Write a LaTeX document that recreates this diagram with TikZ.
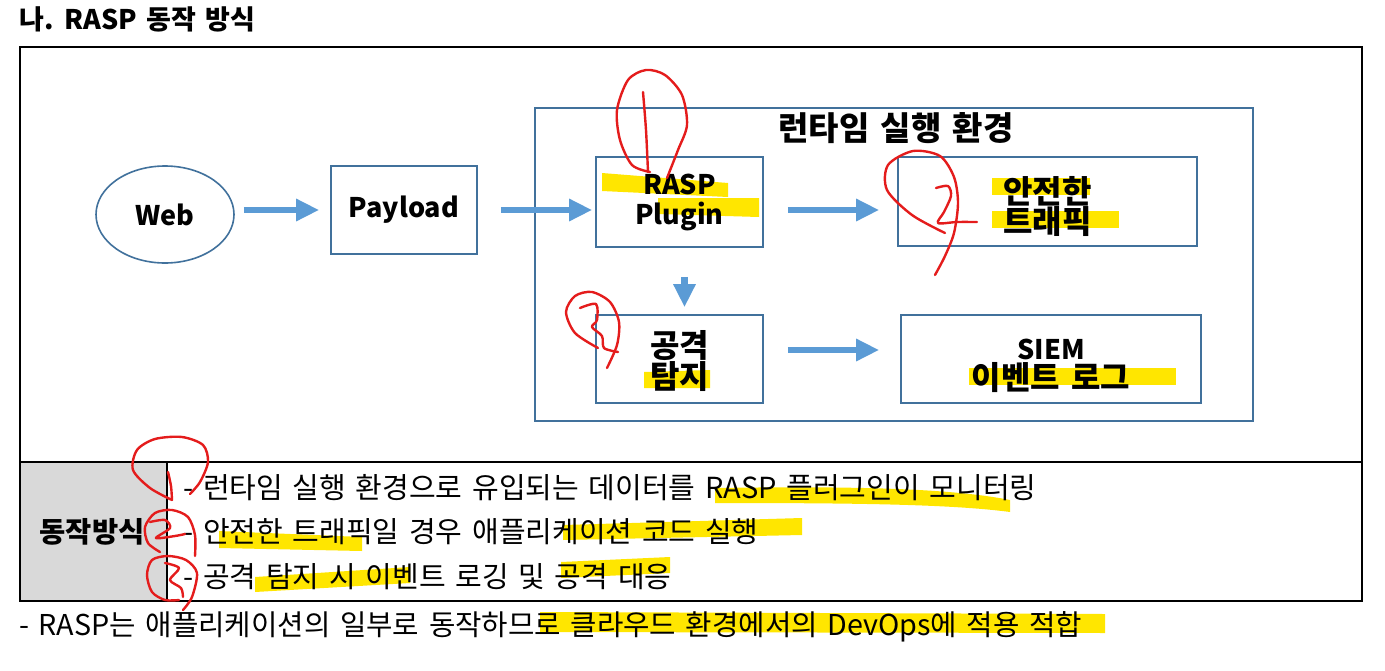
\documentclass[tikz,border=0pt]{standalone}
\usepackage{fontspec}
\setmainfont[WordSpace=1.5]{Noto Sans CJK KR}
\usetikzlibrary{arrows.meta,positioning,calc,shapes.geometric}
\definecolor{bc}{RGB}{65,113,156}
\definecolor{ac}{RGB}{91,155,213}
\definecolor{hl}{RGB}{255,230,0}
\definecolor{redpen}{RGB}{228,28,28}
\definecolor{gc}{RGB}{217,217,217}
\newcommand{\hg}{\fontsize{32}{30}\selectfont}
\tikzset{blk/.style={draw=bc,line width=1.6pt,align=center,inner sep=0pt,font=\fontsize{27}{30}\selectfont\bfseries},
 arr/.style={ac,line width=6.5pt,-{Triangle[length=23pt,width=21pt]}},
 scribble/.style={redpen,line width=2.4pt,line cap=round,line join=round},
 txt/.style={anchor=west,inner sep=0pt,font=\fontsize{29}{32}\selectfont}}
\begin{document}
\begin{tikzpicture}[x=1pt,y=-1pt]
\useasboundingbox (0,0) rectangle (1385,670);
% yellow marker
\fill[hl] (602,173)--(728,183)--(728,197)--(602,191)--cycle;
\fill[hl] (658,198)--(759,198)--(759,217)--(658,214)--cycle;
\fill[hl] (992,178)--(1090,178)--(1090,195)--(992,195)--cycle;
\fill[hl] (992,211)--(1119,211)--(1119,228)--(992,228)--cycle;
\fill[hl] (644,372)--(710,370)--(710,388)--(644,388)--cycle;
\fill[hl] (969,368)--(1176,368)--(1176,385)--(969,385)--cycle;
\fill[hl] (715,488)..controls(850,486)and(950,488)..(1010,500)--(1010,512)..controls(950,504)and(850,503)..(715,503)--cycle;
\fill[hl] (219,531)--(362,537)--(362,551)--(219,548)--cycle;
\fill[hl] (563,525)--(802,518)--(802,535)--(563,540)--cycle;
\fill[hl] (255,577)--(410,567)--(410,583)--(255,592)--cycle;
\fill[hl] (561,562)--(670,557)--(670,573)--(561,578)--cycle;
\fill[hl] (540,612)--(1105,614)--(1105,633)--(540,632)--cycle;
% frame and table
\fill[gc] (20,462) rectangle (167,601);
\draw[line width=2pt] (20,47) rectangle (1362,601);
\draw[line width=1.6pt] (20,462) -- (1362,462) (167,462) -- (167,601);
\node[anchor=west,inner sep=0pt,font=\fontsize{27}{30}\selectfont\bfseries] (title) at (19,19) {나. RASP 동작 방식};
\node[font=\fontsize{28.5}{30}\selectfont\bfseries] (mode) at (92,532) {동작방식};
\node[txt] (ln1) at (183,488) {- 런타임 실행 환경으로 유입되는 데이터를 RASP 플러그인이 모니터링};
\node[txt] (ln2) at (183,532) {- 안전한 트래픽일 경우 애플리케이션 코드 실행};
\node[txt] (ln3) at (183,577) {- 공격 탐지 시 이벤트 로깅 및 공격 대응};
\node[txt,font=\fontsize{28.7}{32}\selectfont] (note) at (19,627) {- RASP는 애플리케이션의 일부로 동작하므로 클라우드 환경에서의 DevOps에 적용 적합};
% diagram
\node[draw=bc,line width=1.6pt,minimum width=718pt,minimum height=313pt] (rt) at (894,264.5) {};
\node[font=\fontsize{33}{36}\selectfont\bfseries] (rtlabel) at (896,128) {런타임 실행 환경};
\node[blk,ellipse,minimum width=138pt,minimum height=97pt] (web) at (165,214.5) {Web};
\node[blk,minimum width=146pt,minimum height=88pt] (payload) at (404,210) {Payload};
\node[blk,minimum width=167pt,minimum height=90pt] (rasp) at (679.5,202) {RASP\\Plugin};
\node[blk,minimum width=299pt,minimum height=89pt] (safe) at (1047.5,201.5) {\hg\rule{0pt}{37pt}안전한\\\hg 트래픽};
\node[blk,minimum width=167pt,minimum height=88pt] (detect) at (679.5,359) {\hg\rule{0pt}{31pt}공격\\\hg 탐지};
\node[blk,minimum width=300pt,minimum height=88pt] (siem) at (1051,359) {\rule{0pt}{34pt}SIEM\\\hg 이벤트 로그};
\draw[arr,shorten <=9pt,shorten >=11pt] (web.east |- payload.west) -- (payload.west);
\draw[arr,shorten <=23pt,shorten >=3pt] (payload.east) -- (payload.east -| rasp.west);
\draw[arr,shorten <=24pt,shorten >=18pt] ([yshift=-8pt]rasp.east) -- ([yshift=-8pt]rasp.east -| safe.west);
\draw[arr,shorten <=29pt,shorten >=7pt] ([xshift=5pt]rasp.south) -- ([xshift=5pt]detect.north);
\draw[arr,shorten <=24pt,shorten >=21pt] ([yshift=9pt]detect.east) -- ([yshift=9pt]detect.east -| siem.west);
% red pen
\draw[scribble] plot[smooth] coordinates {(667,178) (678,150) (687,125) (682,95) (665,75) (646,70) (628,80) (617,110) (620,140) (632,165) (650,172)};
\draw[scribble] plot[smooth] coordinates {(643,92) (646,130) (648,172)};
\draw[scribble] plot[smooth] coordinates {(935,275) (945,256) (954,233) (958,203) (954,177) (940,156) (913,151) (888,165) (887,190) (912,215) (945,233)};
\draw[scribble] plot[smooth] coordinates {(936,188) (948,186) (951,196) (944,212) (938,223) (957,222) (977,222)};
\draw[scribble] plot[smooth] coordinates {(598,348) (575,333) (566,312) (575,296) (592,292) (610,302) (619,322) (617,345) (607,368)};
\draw[scribble] plot[smooth] coordinates {(580,308) (596,304) (597,320) (592,327) (602,336) (604,348) (618,352)};
\draw[scribble] plot[smooth] coordinates {(172,500) (150,488) (133,470) (137,450) (155,439) (182,437) (203,445) (208,462) (200,482) (190,494)};
\draw[scribble] plot[smooth] coordinates {(168,472) (171,486) (172,500)};
\draw[scribble] plot[smooth] coordinates {(195,556) (195,535) (188,517) (172,510) (155,513) (145,527) (148,543) (160,552)};
\draw[scribble] plot[smooth] coordinates {(150,522) (165,520) (170,528) (156,538) (175,536) (185,534)};
\draw[scribble] plot[smooth] coordinates {(183,610) (192,597) (197,573) (186,560) (168,556) (152,560) (147,575) (152,592) (165,600) (179,600)};
\draw[scribble] plot[smooth] coordinates {(165,563) (179,568) (170,580) (181,588) (183,597)};
\end{tikzpicture}
\end{document}
